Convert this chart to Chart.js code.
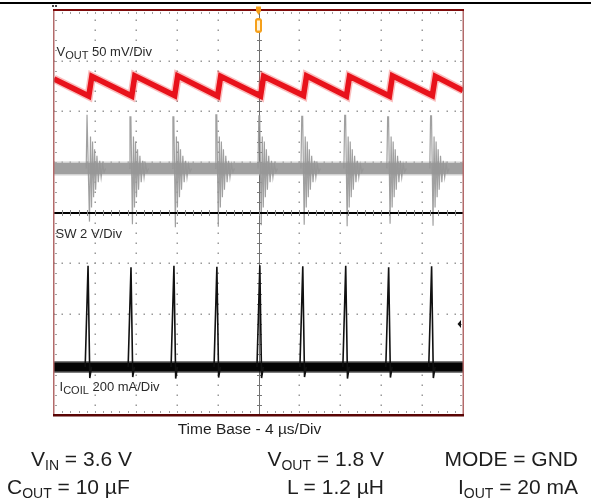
<!DOCTYPE html>
<html>
<head>
<meta charset="utf-8">
<title>Scope capture</title>
<script src="https://cdn.jsdelivr.net/npm/chart.js@4.4.1/dist/chart.umd.min.js"></script>
<style>
  html, body { margin: 0; padding: 0; background: #fff; }
  body { width: 591px; height: 504px; position: relative; overflow: hidden;
         font-family: "Liberation Sans", Arial, Helvetica, sans-serif; color: #1e1e1e; }
  #scope { position: absolute; left: 0; top: 0; }
  #topline { position: absolute; left: 0; top: 2px; width: 591px; height: 1.5px; background: #000; }
  .t { position: absolute; white-space: nowrap; }
  .t sub { line-height: 0; }
  .lbl { font-size: 13px; line-height: 13px; color: #2a2a2a; }
  .lbl sub { font-size: 11px; vertical-align: -3px; }
  .cond { font-size: 21px; line-height: 21px; }
  .cond sub { font-size: 14px; vertical-align: -4px; }
  .base { font-size: 15.5px; line-height: 15.5px; }
</style>
</head>
<body>
<div id="topline"></div>
<canvas id="scope" width="591" height="504"></canvas>

<div class="t lbl" style="left:56.5px; top:45px">V<sub>OUT</sub> 50 mV/Div</div>
<div class="t lbl" style="left:55.5px; top:226.5px">SW 2 V/Div</div>
<div class="t lbl" style="left:59.5px; top:379.5px">I<sub>COIL</sub> 200 mA/Div</div>

<div class="t base" style="left:249.5px; top:421px; transform:translateX(-50%)">Time Base - 4 µs/Div</div>

<div class="t cond" style="left:31px; top:448px">V<sub>IN</sub> = 3.6 V</div>
<div class="t cond" style="right:207px; top:448px">V<sub>OUT</sub> = 1.8 V</div>
<div class="t cond" style="right:13px; top:448px">MODE = GND</div>
<div class="t cond" style="left:7px; top:476px">C<sub>OUT</sub> = 10 µF</div>
<div class="t cond" style="right:207px; top:476px">L = 1.2 µH</div>
<div class="t cond" style="right:13px; top:476px">I<sub>OUT</sub> = 20 mA</div>

<script>
// Screen: 10 div x 4 us horizontally, 8 div vertically (values in divisions)
const timeMin = 0, timeMax = 40;
const divMin = -4, divMax = 4;
const gridTimes = [4, 8, 12, 16, 24, 28, 32, 36];
const gridDivs = [-3, -2, -1, 1, 2, 3];

// switching events (us)
const spikeTimes = [3.35, 7.55, 11.75, 15.95, 20.15, 24.35, 28.55, 32.75, 36.95];

// VOUT ripple (red), sawtooth corners
const voutT = [0, 3.40, 3.70, 7.60, 7.90, 11.80, 12.10, 16.00, 16.30, 20.20, 20.50,
               24.40, 24.70, 28.60, 28.90, 32.80, 33.10, 37.00, 37.30, 40.00];
const voutY = [2.64, 2.30, 2.69, 2.30, 2.70, 2.31, 2.70, 2.30, 2.69, 2.30, 2.69,
               2.31, 2.70, 2.30, 2.69, 2.30, 2.70, 2.31, 2.69, 2.41];

// SW trace (gray): flat level, spike top / dip, ringing after each event
const swLevel = 0.87;
const swPeak = [1.93, 1.89, 1.89, 1.93, 1.91, 1.90, 1.92, 1.89, 1.91];
const swDip = [-0.18, -0.23, -0.29, -0.28, -0.25, -0.24, -0.27, -0.22, -0.26];
const ringDt = [0.22, 0.32, 0.42, 0.52, 0.62, 0.72, 0.85, 0.98, 1.12, 1.26, 1.40, 1.55, 1.70];
const ringY = [1.50, 0.10, 1.40, 0.30, 1.25, 0.45, 1.12, 0.60, 1.02, 0.70, 0.95, 0.80, 0.87];

// ICOIL (black): flat level, pulse peak and undershoot
const coilLevel = -3.05;
const coilPeak = [-1.05, -1.08, -1.05, -1.07, -1.04, -1.06, -1.05, -1.08, -1.06];
const coilDip = [-3.27, -3.25, -3.28, -3.26, -3.27, -3.25, -3.28, -3.26, -3.27];

function pts(xs, ys) { return xs.map((x, i) => ({ x: x, y: ys[i] })); }

const swSpikes = [];
spikeTimes.forEach((t, i) => {
    swSpikes.push({ x: t - 0.20, y: swLevel });
    swSpikes.push({ x: t - 0.12, y: swPeak[i] });
    swSpikes.push({ x: t - 0.03, y: swPeak[i] });
    swSpikes.push({ x: t + 0.12, y: swDip[i] });
    ringDt.forEach((d, j) => swSpikes.push({ x: t + d, y: ringY[j] }));
    swSpikes.push({ x: t + 1.8, y: null });
});

const coilSpikes = [];
spikeTimes.forEach((t, i) => {
    coilSpikes.push({ x: t - 0.30, y: coilLevel });
    coilSpikes.push({ x: t - 0.02, y: coilPeak[i] });
    coilSpikes.push({ x: t + 0.15, y: coilDip[i] });
    coilSpikes.push({ x: t + 0.32, y: coilLevel });
    coilSpikes.push({ x: t + 0.4, y: null });
});

const flat = (v) => [{ x: timeMin, y: v }, { x: timeMax, y: v }];

function line(data, color, width, order) {
    return { data: data, borderColor: color, borderWidth: width, pointRadius: 0,
             tension: 0, fill: false, spanGaps: false, order: order, clip: 0 };
}

// grid, centre lines, frame and markers
const scopePlugin = {
    id: 'scope',
    beforeDatasetsDraw(chart) {
        const c = chart.ctx, xs = chart.scales.x, ys = chart.scales.y;
        const a = chart.chartArea;
        c.save();
        c.fillStyle = '#999';
        gridTimes.forEach(t => {
            const px = Math.round(xs.getPixelForValue(t));
            for (let k = 0; k <= 40; k++) {
                const py = Math.round(ys.getPixelForValue(divMin + k * 0.2));
                c.fillRect(px - 0.5, py - 0.5, 1.5, 1.5);
            }
        });
        gridDivs.forEach(d => {
            const py = Math.round(ys.getPixelForValue(d));
            for (let k = 0; k <= 50; k++) {
                const px = Math.round(xs.getPixelForValue(timeMin + k * 0.8));
                c.fillRect(px - 0.5, py - 0.5, 1.5, 1.5);
            }
        });
        // border ticks
        c.fillStyle = '#a0a0a0';
        for (let k = 1; k < 40; k++) {
            const py = Math.round(ys.getPixelForValue(divMin + k * 0.2));
            c.fillRect(a.left + 1, py, 2, 1);
            c.fillRect(a.right - 3, py, 2, 1);
        }
        for (let k = 1; k < 50; k++) {
            const px = Math.round(xs.getPixelForValue(timeMin + k * 0.8));
            c.fillRect(px, a.top + 2, 1, 2);
            c.fillRect(px, a.bottom - 4, 1, 2);
        }
        // centre vertical line with ticks
        const cx = Math.round(xs.getPixelForValue(20)) + 0.5;
        c.strokeStyle = '#6e6e6e';
        c.lineWidth = 1;
        c.beginPath();
        c.moveTo(cx, a.top);
        c.lineTo(cx, a.bottom);
        c.stroke();
        c.fillStyle = '#777';
        for (let k = 1; k < 40; k++) {
            const py = Math.round(ys.getPixelForValue(divMin + k * 0.2));
            c.fillRect(cx - 2.5, py, 5, 1);
        }
        c.restore();
    },
    afterDatasetsDraw(chart) {
        const c = chart.ctx, xs = chart.scales.x, ys = chart.scales.y;
        const a = chart.chartArea;
        c.save();
        // centre horizontal line
        const cy = ys.getPixelForValue(0);
        c.fillStyle = '#000';
        c.fillRect(a.left, Math.round(cy) - 1, a.right - a.left, 2);
        c.fillStyle = '#888';
        for (let k = 1; k < 50; k++) {
            const px = Math.round(xs.getPixelForValue(timeMin + k * 0.8));
            c.fillRect(px, Math.round(cy) - 3, 1, 6);
        }
        // frame
        c.fillStyle = '#b36a6a';
        c.fillRect(a.left - 1, a.top, 1.5, a.bottom - a.top);
        c.fillRect(a.right - 0.5, a.top, 1.5, a.bottom - a.top);
        c.fillStyle = '#7d0a0a';
        c.fillRect(a.left - 1, a.top - 1, a.right - a.left + 2, 2);
        c.fillStyle = '#5a0505';
        c.fillRect(a.left - 1, a.bottom - 1, a.right - a.left + 2, 2.5);
        // trigger marker
        const tx = xs.getPixelForValue(20);
        c.fillStyle = '#f6a01a';
        c.beginPath();
        c.moveTo(tx - 2.5, 6.5);
        c.lineTo(tx + 2.5, 6.5);
        c.lineTo(tx + 2.5, 11);
        c.lineTo(tx, 15);
        c.lineTo(tx - 2.5, 11);
        c.closePath();
        c.fill();
        c.beginPath();
        c.roundRect(tx - 3.5, 18, 7, 15, 3);
        c.fill();
        c.fillStyle = '#fff3dc';
        c.fillRect(tx - 1.5, 20.5, 3, 10);
        // tiny marks top-left
        c.fillStyle = '#444';
        c.fillRect(a.left - 2, 5, 2, 2);
        c.fillRect(a.left + 1, 5, 2, 2);
        // reference arrow on the right
        const ay = ys.getPixelForValue(-2.2);
        c.fillStyle = '#111';
        c.beginPath();
        c.moveTo(a.right - 5.5, ay);
        c.lineTo(a.right - 2, ay - 4);
        c.lineTo(a.right - 2, ay + 4);
        c.closePath();
        c.fill();
        c.restore();
    }
};

new Chart(document.getElementById('scope'), {
    type: 'line',
    data: {
        datasets: [
            line(pts(voutT, voutY), '#e8121b', 5.5, 1),
            line(pts(voutT, voutY), 'rgba(240, 70, 70, 0.35)', 8.5, 2),
            line(swSpikes, 'rgba(150, 150, 150, 0.9)', 1.2, 3),
            line(flat(swLevel), '#a0a0a0', 11, 4),
            line(flat(swLevel), 'rgba(180, 180, 180, 0.6)', 14, 5),
            line(coilSpikes, '#111', 1.6, 6),
            line(flat(coilLevel), '#050505', 9, 7),
            line(flat(coilLevel), 'rgba(40, 40, 40, 0.6)', 12, 8)
        ]
    },
    options: {
        responsive: false,
        devicePixelRatio: 1,
        animation: false,
        layout: { padding: { left: 54, top: 10, right: 128, bottom: 89 } },
        scales: {
            x: { type: 'linear', min: timeMin, max: timeMax, display: false },
            y: { type: 'linear', min: divMin, max: divMax, display: false }
        },
        plugins: {
            legend: { display: false },
            tooltip: { enabled: false }
        }
    },
    plugins: [scopePlugin]
});
</script>
</body>
</html>
